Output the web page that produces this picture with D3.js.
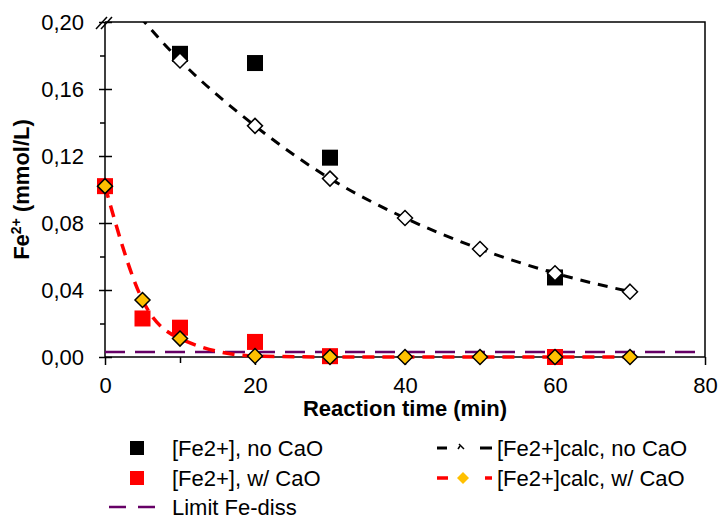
<!DOCTYPE html>
<html>
<head>
  <script src="https://cdnjs.cloudflare.com/ajax/libs/d3/7.8.5/d3.min.js"></script>
  <style>
    body { margin: 0; background: #fff; }
    svg { font-family: "Liberation Sans", Arial, sans-serif; }
    .tick text { font-size: 22px; fill: #000; }
    .axis-title { font-size: 22px; font-weight: bold; }
    .legend text { font-size: 22px; }
  </style>
</head>
<body>
  <div id="chart"></div>
  <script>
    // data
    const timeMeas = [10, 20, 30, 60];
    const feNoCaO = [0.181, 0.1755, 0.119, 0.0475];

    const timeMeasCaO = [0, 5, 10, 20, 30, 60];
    const feWithCaO = [0.102, 0.023, 0.0175, 0.009, 0.0005, 0.0];

    const timeCalc = [0, 10, 20, 30, 40, 50, 60, 70];
    const feCalcNoCaO = [0.228, 0.177, 0.138, 0.1065, 0.083, 0.0645, 0.050, 0.039];

    const timeCalcCaO = [0, 5, 10, 20, 30, 40, 50, 60, 70];
    const feCalcCaO = [0.102, 0.034, 0.011, 0.0006, 0.0, 0.0, 0.0, 0.0, 0.0];

    const limitFeDiss = 0.003;

    const xTicks = [0, 20, 40, 60, 80];
    const xMinor = [10, 30, 50, 70];
    const yTicks = [0, 0.04, 0.08, 0.12, 0.16, 0.20];
    const yMinor = [0.02, 0.06, 0.10, 0.14, 0.18];

    const W = 718, H = 519;
    const svg = d3.select("#chart").append("svg")
      .attr("width", W).attr("height", H);

    const x = d3.scaleLinear().domain([0, 80]).range([105, 705]);
    const y = d3.scaleLinear().domain([0, 0.20]).range([357, 22]);

    const fmt = d => d.toFixed(2).replace(".", ",");

    // minor ticks
    svg.append("g")
      .attr("transform", `translate(${x(0)},0)`)
      .call(d3.axisLeft(y).tickValues(yMinor).tickSize(5).tickFormat(""))
      .call(g => g.select(".domain").remove())
      .selectAll("line").attr("stroke-width", 1.5);

    svg.append("g")
      .attr("transform", `translate(0,${y(0)})`)
      .call(d3.axisBottom(x).tickValues(xMinor).tickSize(6).tickFormat(""))
      .call(g => g.select(".domain").remove())
      .selectAll("line").attr("stroke-width", 1.5);

    // major ticks
    const yAxis = svg.append("g")
      .attr("transform", `translate(${x(0)},0)`)
      .call(d3.axisLeft(y).tickValues(yTicks).tickSize(6).tickPadding(15).tickFormat(fmt))
      .call(g => g.select(".domain").remove());
    yAxis.selectAll(".tick line").attr("x2", -6).attr("x1", 7).attr("stroke-width", 1.5);
    yAxis.selectAll(".tick text").attr("font-family", null).attr("font-size", null);

    const xAxis = svg.append("g")
      .attr("transform", `translate(0,${y(0)})`)
      .call(d3.axisBottom(x).tickValues(xTicks).tickSize(8).tickPadding(12))
      .call(g => g.select(".domain").remove());
    xAxis.selectAll(".tick line").attr("stroke-width", 1.5);
    xAxis.selectAll(".tick text").attr("font-family", null).attr("font-size", null);

    // frame
    svg.append("path")
      .attr("d", `M${x(0)},${y(0.2)}V${y(0)}H${x(80)}V${y(0.2)}H${x(0)}`)
      .attr("fill", "none").attr("stroke", "#000").attr("stroke-width", 1.5);

    // axis break marks
    [0, 5].forEach(o => {
      svg.append("line")
        .attr("x1", x(0) - 9 + o).attr("y1", y(0.2) + 7)
        .attr("x2", x(0) + 2 + o).attr("y2", y(0.2) - 5)
        .attr("stroke", "#000").attr("stroke-width", 1.5);
    });

    // clip to plot
    svg.append("clipPath").attr("id", "plot")
      .append("rect")
      .attr("x", x(0) - 10).attr("y", y(0.2))
      .attr("width", x(80) - x(0) + 20).attr("height", y(0) - y(0.2) + 12);

    const plot = svg.append("g").attr("clip-path", "url(#plot)");

    const line = d3.line().curve(d3.curveMonotoneX);

    // limit line
    plot.append("line")
      .attr("x1", x(0)).attr("x2", x(80))
      .attr("y1", y(limitFeDiss)).attr("y2", y(limitFeDiss))
      .attr("stroke", "#660066").attr("stroke-width", 2.5)
      .attr("stroke-dasharray", "20,10");

    const diamond = (g, pts, fill, r) => {
      g.selectAll(null).data(pts).join("path")
        .attr("d", d => `M${x(d[0])},${y(d[1]) - r}l${r},${r}l${-r},${r}l${-r},${-r}z`)
        .attr("fill", fill).attr("stroke", "#000").attr("stroke-width", 1.5);
    };
    const square = (g, pts, fill, s) => {
      g.selectAll(null).data(pts).join("rect")
        .attr("x", d => x(d[0]) - s / 2).attr("y", d => y(d[1]) - s / 2)
        .attr("width", s).attr("height", s).attr("fill", fill);
    };

    const measNo = d3.zip(timeMeas, feNoCaO);
    const measCaO = d3.zip(timeMeasCaO, feWithCaO);
    const calcNo = d3.zip(timeCalc, feCalcNoCaO);
    const calcCaO = d3.zip(timeCalcCaO, feCalcCaO);

    square(plot, measNo, "#000", 16);
    square(plot, measCaO, "#ff0000", 16);

    plot.append("path")
      .attr("d", line(calcNo.map(d => [x(d[0]), y(d[1])])))
      .attr("fill", "none").attr("stroke", "#000").attr("stroke-width", 3)
      .attr("stroke-dasharray", "10,8");
    plot.append("path")
      .attr("d", line(calcCaO.map(d => [x(d[0]), y(d[1])])))
      .attr("fill", "none").attr("stroke", "#ff0000").attr("stroke-width", 3.5)
      .attr("stroke-dasharray", "12,8");

    diamond(plot, calcNo, "#fff", 7.5);
    diamond(plot, calcCaO, "#ffc000", 7.5);

    // axis titles
    svg.append("text").attr("class", "axis-title")
      .attr("x", (x(0) + x(80)) / 2).attr("y", 416)
      .attr("text-anchor", "middle")
      .text("Reaction time (min)");

    const yt = svg.append("text").attr("class", "axis-title")
      .attr("transform", `translate(29,${(y(0) + y(0.2)) / 2}) rotate(-90)`)
      .attr("text-anchor", "middle");
    yt.append("tspan").text("Fe");
    yt.append("tspan").attr("dy", -8).attr("font-size", 14).text("2+");
    yt.append("tspan").attr("dy", 8).text(" (mmol/L)");

    // legend
    const lg = svg.append("g").attr("class", "legend");
    const row = [448, 478, 507];
    lg.append("rect").attr("x", 130).attr("y", row[0] - 7).attr("width", 14).attr("height", 14).attr("fill", "#000");
    lg.append("rect").attr("x", 130).attr("y", row[1] - 7).attr("width", 14).attr("height", 14).attr("fill", "#ff0000");
    lg.append("line").attr("x1", 109).attr("x2", 157).attr("y1", row[2]).attr("y2", row[2])
      .attr("stroke", "#660066").attr("stroke-width", 2.5).attr("stroke-dasharray", "17,12");

    lg.append("line").attr("x1", 437).attr("x2", 492).attr("y1", row[0]).attr("y2", row[0])
      .attr("stroke", "#000").attr("stroke-width", 3).attr("stroke-dasharray", "10,33,12");
    lg.append("path").attr("d", `M459,${row[0] - 4}l5,5`).attr("stroke", "#000").attr("stroke-width", 1.5);
    lg.append("path").attr("d", `M458,${row[0] + 1}l2,-3`).attr("stroke", "#000").attr("stroke-width", 1.5);

    lg.append("line").attr("x1", 437).attr("x2", 492).attr("y1", row[1]).attr("y2", row[1])
      .attr("stroke", "#ff0000").attr("stroke-width", 3.5).attr("stroke-dasharray", "11,37,7");
    lg.append("path").attr("d", `M463,${row[1] - 6}l6,6l-6,6l-6,-6z`).attr("fill", "#ffc000");

    const labels = [
      [172, row[0], "[Fe2+], no CaO"],
      [172, row[1], "[Fe2+], w/ CaO"],
      [172, row[2], "Limit Fe-diss"],
      [497, row[0], "[Fe2+]calc, no CaO"],
      [497, row[1], "[Fe2+]calc, w/ CaO"]
    ];
    lg.selectAll("text").data(labels).join("text")
      .attr("x", d => d[0]).attr("y", d => d[1]).attr("dy", "0.35em")
      .text(d => d[2]);
  </script>
</body>
</html>
